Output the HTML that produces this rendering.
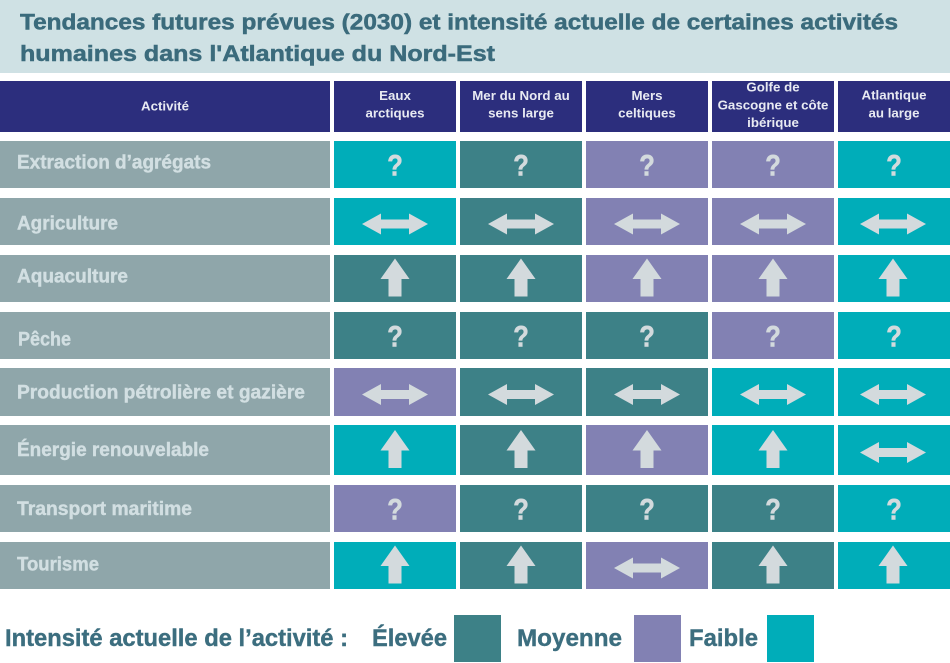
<!DOCTYPE html>
<html>
<head>
<meta charset="utf-8">
<style>
html,body{margin:0;padding:0;background:#ffffff;}
body{width:950px;height:663px;overflow:hidden;}
svg{display:block;}
text{font-family:"Liberation Sans",Arial,sans-serif;font-weight:bold;}
</style>
</head>
<body>
<svg width="950" height="663" viewBox="0 0 950 663" xmlns="http://www.w3.org/2000/svg">
<defs>
<path id="h" d="M-33 0 L-14 -10.5 L-14 -4.5 L14 -4.5 L14 -10.5 L33 0 L14 10.5 L14 4.5 L-14 4.5 L-14 10.5 Z" fill="#d3dadd"/>
<path id="u" d="M0 3.5 L14.5 24 L6.5 24 L6.5 41.5 L-6.5 41.5 L-6.5 24 L-14.5 24 Z" fill="#d3dadd"/>
</defs>
<rect x="0" y="0" width="950" height="663" fill="#ffffff"/>
<!-- Title banner -->
<rect x="0" y="0" width="950" height="73" fill="#cfe1e4"/>
<g stroke="#3b6b7c" stroke-width="0.5" fill="#3b6b7c">
<text x="20" y="29.5" font-size="22" textLength="878" lengthAdjust="spacingAndGlyphs">Tendances futures prévues (2030) et intensité actuelle de certaines activités</text>
<text x="20" y="61" font-size="22" textLength="475" lengthAdjust="spacingAndGlyphs">humaines dans l'Atlantique du Nord-Est</text>
</g>

<!-- Header -->
<g fill="#2c2e7d">
<rect x="0" y="81" width="330" height="51"/>
<rect x="334" y="81" width="122" height="51"/>
<rect x="460" y="81" width="122" height="51"/>
<rect x="586" y="81" width="122" height="51"/>
<rect x="712" y="81" width="122" height="51"/>
<rect x="838" y="81" width="112" height="51"/>
</g>
<g font-size="13.3" fill="#e8eaf2" text-anchor="middle">
<text x="165" y="110.5">Activité</text>
<text x="395" y="100">Eaux</text>
<text x="395" y="117.5">arctiques</text>
<text x="521" y="100">Mer du Nord au</text>
<text x="521" y="117.5">sens large</text>
<text x="647" y="100">Mers</text>
<text x="647" y="117.5">celtiques</text>
<text x="773" y="91.7">Golfe de</text>
<text x="773" y="109.5">Gascogne et côte</text>
<text x="773" y="126.8">ibérique</text>
<text x="894" y="99.5">Atlantique</text>
<text x="894" y="117.3">au large</text>
</g>

<!-- Label column -->
<g fill="#8fa6aa">
<rect x="0" y="141" width="330" height="47"/>
<rect x="0" y="198" width="330" height="47"/>
<rect x="0" y="255" width="330" height="47"/>
<rect x="0" y="312" width="330" height="47"/>
<rect x="0" y="368" width="330" height="48"/>
<rect x="0" y="425" width="330" height="50"/>
<rect x="0" y="485" width="330" height="47"/>
<rect x="0" y="542" width="330" height="47"/>
</g>
<g font-size="19" fill="#d2dfe2" stroke="#d2dfe2" stroke-width="0.4">
<text x="17" y="168.3" textLength="194" lengthAdjust="spacingAndGlyphs">Extraction d’agrégats</text>
<text x="17" y="229.3" textLength="101" lengthAdjust="spacingAndGlyphs">Agriculture</text>
<text x="17" y="282.7" textLength="111" lengthAdjust="spacingAndGlyphs">Aquaculture</text>
<text x="18" y="345.7" textLength="53" lengthAdjust="spacingAndGlyphs">Pêche</text>
<text x="17" y="398.3" textLength="288" lengthAdjust="spacingAndGlyphs">Production pétrolière et gazière</text>
<text x="17" y="456" textLength="192" lengthAdjust="spacingAndGlyphs">Énergie renouvelable</text>
<text x="17" y="515" textLength="175" lengthAdjust="spacingAndGlyphs">Transport maritime</text>
<text x="17" y="570.7" textLength="82" lengthAdjust="spacingAndGlyphs">Tourisme</text>
</g>

<!-- Cells -->
<rect x="334" y="141" width="122" height="47" fill="#00adb9"/>
<rect x="460" y="141" width="122" height="47" fill="#3d8187"/>
<rect x="586" y="141" width="122" height="47" fill="#8281b3"/>
<rect x="712" y="141" width="122" height="47" fill="#8281b3"/>
<rect x="838" y="141" width="112" height="47" fill="#00adb9"/>

<rect x="334" y="198" width="122" height="47" fill="#00adb9"/>
<rect x="460" y="198" width="122" height="47" fill="#3d8187"/>
<rect x="586" y="198" width="122" height="47" fill="#8281b3"/>
<rect x="712" y="198" width="122" height="47" fill="#8281b3"/>
<rect x="838" y="198" width="112" height="47" fill="#00adb9"/>

<rect x="334" y="255" width="122" height="47" fill="#3d8187"/>
<rect x="460" y="255" width="122" height="47" fill="#3d8187"/>
<rect x="586" y="255" width="122" height="47" fill="#8281b3"/>
<rect x="712" y="255" width="122" height="47" fill="#8281b3"/>
<rect x="838" y="255" width="112" height="47" fill="#00adb9"/>

<rect x="334" y="312" width="122" height="47" fill="#3d8187"/>
<rect x="460" y="312" width="122" height="47" fill="#3d8187"/>
<rect x="586" y="312" width="122" height="47" fill="#3d8187"/>
<rect x="712" y="312" width="122" height="47" fill="#8281b3"/>
<rect x="838" y="312" width="112" height="47" fill="#00adb9"/>

<rect x="334" y="368" width="122" height="48" fill="#8281b3"/>
<rect x="460" y="368" width="122" height="48" fill="#3d8187"/>
<rect x="586" y="368" width="122" height="48" fill="#3d8187"/>
<rect x="712" y="368" width="122" height="48" fill="#00adb9"/>
<rect x="838" y="368" width="112" height="48" fill="#00adb9"/>

<rect x="334" y="425" width="122" height="50" fill="#00adb9"/>
<rect x="460" y="425" width="122" height="50" fill="#3d8187"/>
<rect x="586" y="425" width="122" height="50" fill="#8281b3"/>
<rect x="712" y="425" width="122" height="50" fill="#00adb9"/>
<rect x="838" y="425" width="112" height="50" fill="#00adb9"/>

<rect x="334" y="485" width="122" height="47" fill="#8281b3"/>
<rect x="460" y="485" width="122" height="47" fill="#3d8187"/>
<rect x="586" y="485" width="122" height="47" fill="#3d8187"/>
<rect x="712" y="485" width="122" height="47" fill="#3d8187"/>
<rect x="838" y="485" width="112" height="47" fill="#00adb9"/>

<rect x="334" y="542" width="122" height="47" fill="#00adb9"/>
<rect x="460" y="542" width="122" height="47" fill="#3d8187"/>
<rect x="586" y="542" width="122" height="47" fill="#8281b3"/>
<rect x="712" y="542" width="122" height="47" fill="#3d8187"/>
<rect x="838" y="542" width="112" height="47" fill="#00adb9"/>

<!-- Icons -->
<g font-size="30" fill="#d3dadd" stroke="#d3dadd" stroke-width="0.6" text-anchor="middle">
<text transform="translate(395,175.5) scale(0.85,1)">?</text>
<text transform="translate(521,175.5) scale(0.85,1)">?</text>
<text transform="translate(647,175.5) scale(0.85,1)">?</text>
<text transform="translate(773,175.5) scale(0.85,1)">?</text>
<text transform="translate(894,175.5) scale(0.85,1)">?</text>
<text transform="translate(395,346.5) scale(0.85,1)">?</text>
<text transform="translate(521,346.5) scale(0.85,1)">?</text>
<text transform="translate(647,346.5) scale(0.85,1)">?</text>
<text transform="translate(773,346.5) scale(0.85,1)">?</text>
<text transform="translate(894,346.5) scale(0.85,1)">?</text>
<text transform="translate(395,519.5) scale(0.85,1)">?</text>
<text transform="translate(521,519.5) scale(0.85,1)">?</text>
<text transform="translate(647,519.5) scale(0.85,1)">?</text>
<text transform="translate(773,519.5) scale(0.85,1)">?</text>
<text transform="translate(894,519.5) scale(0.85,1)">?</text>
</g>
<use href="#h" x="395" y="224"/>
<use href="#h" x="521" y="224"/>
<use href="#h" x="647" y="224"/>
<use href="#h" x="773" y="224"/>
<use href="#h" x="893" y="224"/>
<use href="#u" x="395" y="255"/>
<use href="#u" x="521" y="255"/>
<use href="#u" x="647" y="255"/>
<use href="#u" x="773" y="255"/>
<use href="#u" x="893" y="255"/>
<use href="#h" x="395" y="394.5"/>
<use href="#h" x="521" y="394.5"/>
<use href="#h" x="647" y="394.5"/>
<use href="#h" x="773" y="394.5"/>
<use href="#h" x="893" y="394.5"/>
<use href="#u" x="395" y="426.5"/>
<use href="#u" x="521" y="426.5"/>
<use href="#u" x="647" y="426.5"/>
<use href="#u" x="773" y="426.5"/>
<use href="#h" x="893" y="452.5"/>
<use href="#u" x="395" y="542"/>
<use href="#u" x="521" y="542"/>
<use href="#h" x="647" y="568"/>
<use href="#u" x="773" y="542"/>
<use href="#u" x="893" y="542"/>

<!-- Legend -->
<g font-size="24" fill="#3c6e7f" stroke="#3c6e7f" stroke-width="0.4">
<text x="5" y="646" textLength="343" lengthAdjust="spacingAndGlyphs">Intensité actuelle de l’activité :</text>
<text x="372" y="646" textLength="75" lengthAdjust="spacingAndGlyphs">Élevée</text>
<text x="517" y="646" textLength="105" lengthAdjust="spacingAndGlyphs">Moyenne</text>
<text x="689" y="646" textLength="69" lengthAdjust="spacingAndGlyphs">Faible</text>
</g>
<rect x="454" y="615" width="47" height="47" fill="#3d8187"/>
<rect x="634" y="615" width="47" height="47" fill="#8281b3"/>
<rect x="767" y="615" width="47" height="47" fill="#00adb9"/>
</svg>
</body>
</html>
